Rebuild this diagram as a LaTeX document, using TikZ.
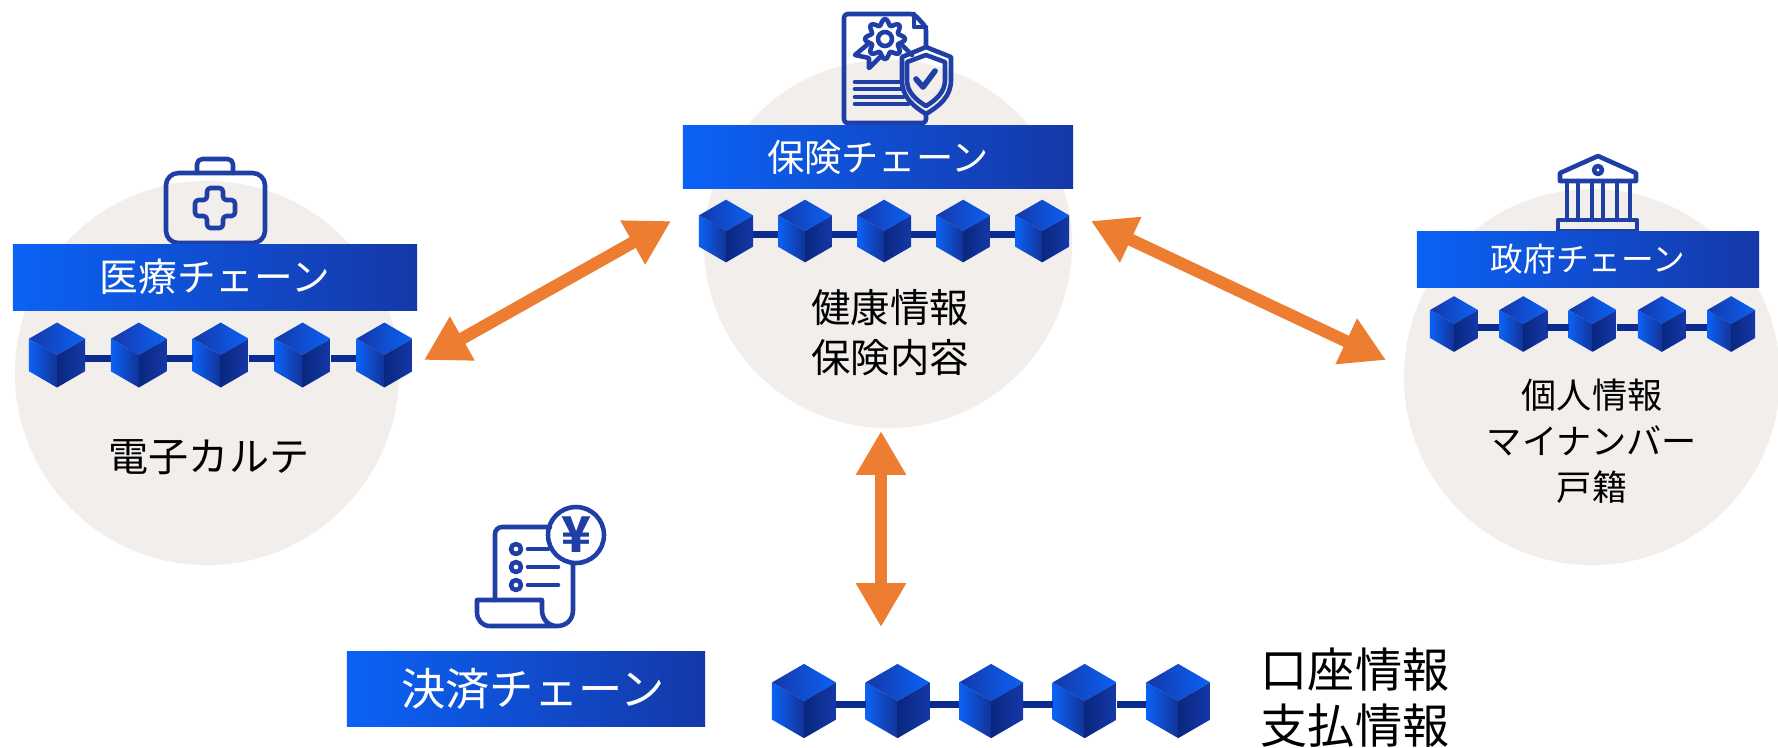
\documentclass[tikz,border=0pt]{standalone}
\usepackage{fontspec}
\setmainfont{Noto Sans CJK JP}
\usetikzlibrary{arrows.meta,calc,positioning}

\definecolor{iconblue}{HTML}{1F3FA6}
\definecolor{barleft}{HTML}{0B62F6}
\definecolor{barright}{HTML}{1538A8}
\definecolor{linkblue}{HTML}{0A2C8E}
\definecolor{bubblegrey}{HTML}{F1EEEC}
\definecolor{arroworange}{HTML}{ED7D31}

\tikzset{
  bubble/.style={circle,fill=bubblegrey,inner sep=0pt,minimum size=#1},
  chainbar/.style={rectangle,left color=barleft,right color=barright,text=white,inner sep=0pt},
  cube/.style={rectangle,inner sep=0pt,outer sep=0pt,minimum width=#1cm,minimum height=1.16*#1cm,
    path picture={
      \coordinate (n) at (path picture bounding box.north);
      \coordinate (s) at (path picture bounding box.south);
      \coordinate (c) at (path picture bounding box.center);
      \coordinate (nw) at ($(path picture bounding box.north west)!0.25!(path picture bounding box.south west)$);
      \coordinate (sw) at ($(path picture bounding box.north west)!0.75!(path picture bounding box.south west)$);
      \coordinate (ne) at ($(path picture bounding box.north east)!0.25!(path picture bounding box.south east)$);
      \coordinate (se) at ($(path picture bounding box.north east)!0.75!(path picture bounding box.south east)$);
      \shade[left color=barright,right color=barleft] (n) -- (ne) -- (c) -- (nw) -- cycle;
      \shade[left color=barleft,right color=barright!90!black] (nw) -- (c) -- (s) -- (sw) -- cycle;
      \shade[left color=linkblue!90!black,right color=barright] (c) -- (ne) -- (se) -- (s) -- cycle;
    }},
  link/.style={draw=linkblue,line width=2pt},
  icon/.style={draw=iconblue,line width=1.3pt,line join=round,line cap=round},
  plain/.style={text=black,align=center}
}

\begin{document}
\begin{tikzpicture}[x=0.01cm,y=-0.01cm,>={Triangle[length=12.5pt,width=13.5pt]}]
  \useasboundingbox (0,0) rectangle (1778,747);

  \node[bubble=3.84cm] (med)  at (207,373) {};
  \node[bubble=3.68cm] (ins)  at (888,244) {};
  \node[bubble=3.76cm] (gov)  at (1592,377) {};

  % first aid case
  \draw[icon,rounded corners=3.5pt] (166,173) rectangle (265,243);
  \draw[icon,rounded corners=1.5pt] (197,173) -- (197,159) -- (233,159) -- (233,173);
  \draw[icon,rounded corners=1pt] (207,188) -- (223,188) -- (223,200) -- (235,200) -- (235,216) -- (223,216) -- (223,228)
    -- (207,228) -- (207,216) -- (195,216) -- (195,200) -- (207,200) -- cycle;

  % certificate and shield
  \draw[icon,rounded corners=1pt] (926,47) -- (926,27) -- (914,14) -- (844,14) -- (844,123) -- (926,123) -- (926,114);
  \draw[icon] (914,14) -- (914,27) -- (926,27);
  \draw[icon] plot[domain=0:360,samples=65,smooth] ({885+(17+3*cos(8*\x))*cos(\x)},{39+(17+3*cos(8*\x))*sin(\x)});
  \draw[icon] (885,39) circle (7);
  \draw[icon] (868,44) -- (855,55) -- (869,58) -- (869,68) -- (880,57);
  \draw[icon] (901,44) -- (912,55);
  \draw[icon] (855,82) -- (899,82) (855,89) -- (901,89) (855,97) -- (903,97) (855,104) -- (908,104);
  \draw[icon] (926,47) -- (951,57) -- (951,80) .. controls (951,97) and (939,106) .. (926,114)
    .. controls (913,106) and (902,97) .. (902,80) -- (902,57) -- cycle;
  \draw[icon] (926,55) -- (945,62) -- (945,80) .. controls (945,92) and (936,100) .. (926,106)
    .. controls (916,100) and (907,92) .. (907,80) -- (907,62) -- cycle;
  \draw[icon,line width=1.6pt] (916,79) -- (923,87) -- (935,71);

  % bank
  \draw[icon] (1598,156) -- (1560,173) -- (1560,181) -- (1636,181) -- (1636,173) -- cycle;
  \draw[icon] (1598,170) circle (4);
  \draw[icon] (1567,181) -- (1567,220) (1578,181) -- (1578,220) (1592,181) -- (1592,220)
    (1603,181) -- (1603,220) (1617,181) -- (1617,220) (1630,181) -- (1630,220);
  \draw[icon] (1558,220) rectangle (1637,231);

  % receipt
  \draw[icon,rounded corners=2pt] (495,600) -- (495,527) -- (550,527);
  \draw[icon] (573,563) -- (573,610) .. controls (573,620) and (566,626) .. (557,626) -- (490,626)
    .. controls (482,626) and (477,620) .. (477,612) -- (477,600) -- (542,600) -- (542,610)
    .. controls (542,620) and (549,626) .. (557,626);
  \draw[icon] (576,535) circle (28);
  \draw[icon] (516,549) circle (5) (516,567) circle (5) (516,585) circle (5);
  \draw[icon] (528,549) -- (548,549) (528,567) -- (558,567) (528,585) -- (558,585);
  \node[text=iconblue,font=\fontsize{14pt}{15pt}\selectfont\bfseries] (yen) at (576,535) {¥};

  \node[chainbar,minimum width=4.04cm,minimum height=0.66cm,font=\fontsize{11pt}{12pt}\selectfont] (medbar) at (215,277) {医療チェーン};
  \node[chainbar,minimum width=3.90cm,minimum height=0.63cm,font=\fontsize{10.6pt}{12pt}\selectfont] (insbar) at (878,157) {保険チェーン};
  \node[chainbar,minimum width=3.42cm,minimum height=0.56cm,font=\fontsize{9.3pt}{11pt}\selectfont] (govbar) at (1588,259) {政府チェーン};
  \node[chainbar,minimum width=3.58cm,minimum height=0.75cm,font=\fontsize{12.6pt}{14pt}\selectfont] (paybar) at (526,689) {\hspace{0.14cm}決済チェーン};

  \begin{scope}[node distance=0.818cm]
  \node[cube=0.56] (M1) at (57,355) {};
  \node[cube=0.56] (M2) [right of=M1] {};
  \node[cube=0.56] (M3) [right of=M2] {};
  \node[cube=0.56] (M4) [right of=M3] {};
  \node[cube=0.56] (M5) [right of=M4] {};
  \end{scope}
  \begin{scope}[node distance=0.79cm]
  \node[cube=0.54] (I1) at (726,231) {};
  \node[cube=0.54] (I2) [right of=I1] {};
  \node[cube=0.54] (I3) [right of=I2] {};
  \node[cube=0.54] (I4) [right of=I3] {};
  \node[cube=0.54] (I5) [right of=I4] {};
  \end{scope}
  \begin{scope}[node distance=0.6925cm]
  \node[cube=0.48] (G1) at (1454,324) {};
  \node[cube=0.48] (G2) [right of=G1] {};
  \node[cube=0.48] (G3) [right of=G2] {};
  \node[cube=0.48] (G4) [right of=G3] {};
  \node[cube=0.48] (G5) [right of=G4] {};
  \end{scope}
  \begin{scope}[node distance=0.935cm]
  \node[cube=0.64] (P1) at (804,701) {};
  \node[cube=0.64] (P2) [right of=P1] {};
  \node[cube=0.64] (P3) [right of=P2] {};
  \node[cube=0.64] (P4) [right of=P3] {};
  \node[cube=0.64] (P5) [right of=P4] {};
  \end{scope}

  \begin{scope}[transform canvas={yshift=-0.9pt}]
  \path (M1) edge[link] (M2) (M2) edge[link] (M3) (M3) edge[link] (M4) (M4) edge[link] (M5);
  \path (I1) edge[link] (I2) (I2) edge[link] (I3) (I3) edge[link] (I4) (I4) edge[link] (I5);
  \path (G1) edge[link] (G2) (G2) edge[link] (G3) (G3) edge[link] (G4) (G4) edge[link] (G5);
  \path (P1) edge[link] (P2) (P2) edge[link] (P3) (P3) edge[link] (P4) (P4) edge[link] (P5);
  \end{scope}

  \node[plain,font=\fontsize{11.4pt}{14pt}\selectfont] (karte) at (209,457) {電子カルテ};
  \node[plain,font=\fontsize{11.2pt}{14.2pt}\selectfont] (health) at (890,333) {健康情報\\保険内容};
  \node[plain,font=\fontsize{10pt}{13pt}\selectfont] (person) at (1592,441) {個人情報\\マイナンバー\\戸籍};
  \node[plain,font=\fontsize{13.4pt}{15.9pt}\selectfont] (account) at (1355,698) {口座情報\\支払情報};

  \coordinate (a) at (424,360);
  \coordinate (b) at (671,221);
  \coordinate (c) at (1091,221);
  \coordinate (d) at (1386,360);
  \coordinate (e) at (881,431);
  \coordinate (f) at (881,627);
  \draw[<->,arroworange,line width=3.5pt] (a) -- (b);
  \draw[<->,arroworange,line width=3.5pt] (c) -- (d);
  \draw[<->,arroworange,line width=3.5pt] (e) -- (f);
\end{tikzpicture}
\end{document}
